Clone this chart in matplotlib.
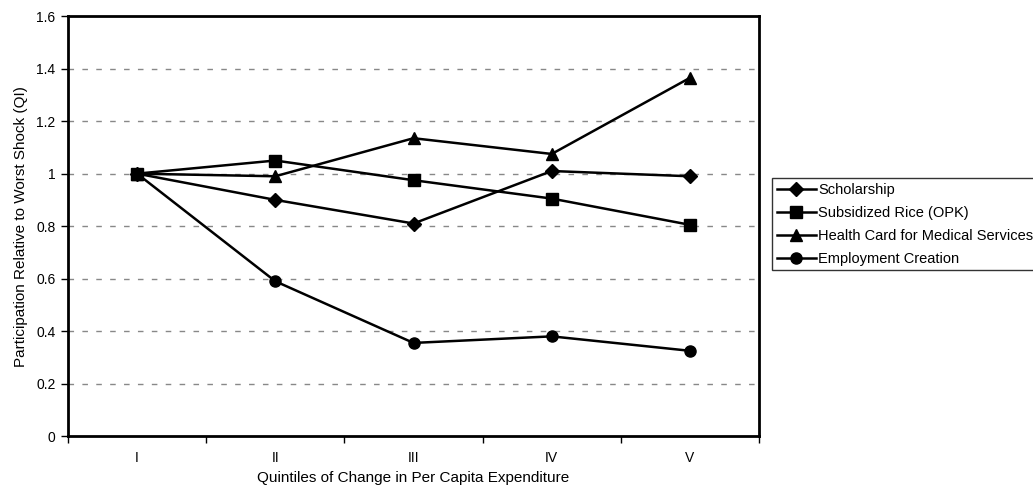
import matplotlib
matplotlib.use("Agg")
import matplotlib.pyplot as plt
import numpy as np

plt.rcParams['font.family'] = ['Liberation Sans', 'DejaVu Sans']

quintiles = ['I', 'II', 'III', 'IV', 'V']
scholarship = [1.0, 0.90, 0.81, 1.01, 0.99]
subsidized_rice = [1.0, 1.05, 0.975, 0.905, 0.805]
health_card = [1.0, 0.99, 1.135, 1.075, 1.365]
employment = [1.0, 0.59, 0.355, 0.38, 0.325]

series = [
    ('Scholarship', scholarship, 'D', 7),
    ('Subsidized Rice (OPK)', subsidized_rice, 's', 8),
    ('Health Card for Medical Services', health_card, '^', 8),
    ('Employment Creation', employment, 'o', 8),
]

fig = plt.figure(figsize=(10.33, 4.90), dpi=100)
ax = fig.add_axes([0.0658, 0.110, 0.669, 0.857])

x = np.arange(len(quintiles))
for name, vals, mk, ms in series:
    ax.plot(x, vals, color='black', linewidth=1.8, marker=mk, markersize=ms,
            markerfacecolor='black', markeredgecolor='black', label=name)

ax.set_xlim(-0.5, len(quintiles) - 0.5)
ax.set_ylim(0, 1.6)
ax.set_yticks(np.arange(0, 1.61, 0.2))
ax.set_yticklabels(['0', '0.2', '0.4', '0.6', '0.8', '1', '1.2', '1.4', '1.6'])
ax.set_xticks(x)
ax.set_xticklabels(quintiles)
# tick marks sit between the categories
ax.set_xticks(np.arange(-0.5, len(quintiles)), minor=True)
ax.tick_params(axis='x', which='major', length=0, pad=11, labelsize=10)
ax.tick_params(axis='x', which='minor', length=5, width=1, direction='out')
ax.tick_params(axis='y', length=5, width=1, direction='out', labelsize=10, pad=4)

for yv in np.arange(0.2, 1.5, 0.2):
    ax.axhline(yv, color='#888888', linestyle=(0, (4, 6)), linewidth=1, zorder=0)

for s in ax.spines.values():
    s.set_linewidth(2)

ax.set_xlabel('Quintiles of Change in Per Capita Expenditure', fontsize=11)
ax.xaxis.set_label_coords(0.5, -0.083)
ax.set_ylabel('Participation Relative to Worst Shock (QI)', fontsize=11, labelpad=6)

leg = ax.legend(loc='upper left', bbox_to_anchor=(1.019, 0.614), fontsize=10.5,
                frameon=True, fancybox=False, edgecolor='black', borderpad=0.3,
                handlelength=2.7, handletextpad=0.15, labelspacing=0.62,
                borderaxespad=0)
leg.get_frame().set_linewidth(1)

fig.savefig('out.png', dpi=100)
